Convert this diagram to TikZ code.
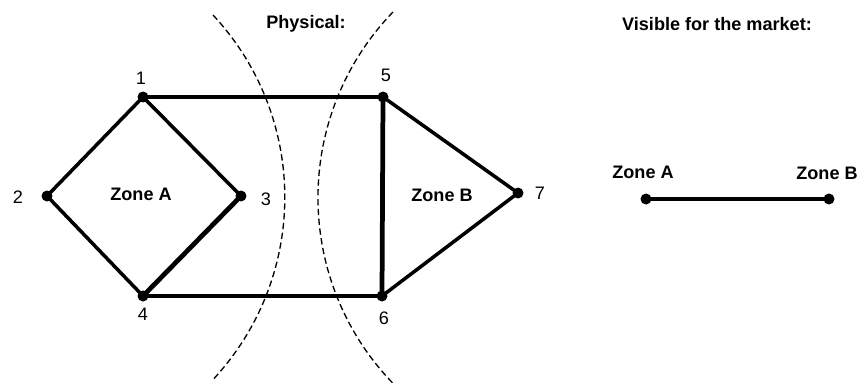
\documentclass[tikz,border=0pt]{standalone}
\usepackage{fontspec}
\setmainfont{Liberation Sans}
\begin{document}
\begin{tikzpicture}[x=0.02cm,y=0.02cm,font=\fontsize{10.3}{12}\selectfont,
  edge/.style={line width=2pt},
  heavy/.style={line width=2.7pt},
  border/.style={dash pattern=on 3.6pt off 2pt,line width=0.75pt},
  zone/.style={font=\fontsize{10.3}{12}\selectfont\bfseries}]
\useasboundingbox (0,0) rectangle (860,383);
\path
(143,286) coordinate (1)
(47,187) coordinate (2)
(241,187) coordinate (3)
(143,87) coordinate (4)
(383,286) coordinate (5)
(382,87) coordinate (6)
(518,190) coordinate (7)
(646,184) coordinate (MA)
(829,184) coordinate (MB)
;
\draw[edge] (1)--(2)--(4)--(6)--(7)--(5)--(1)--(3);
\draw[heavy] (3)--(4) (5)--(6);
\draw[line width=2.4pt] (MA)--(MB);
\draw[border] (213,368) arc[start angle=43, end angle=-43, radius=267.3];
\draw[border] (393,371) arc[start angle=136, end angle=224, radius=267.3];
\foreach \x/\lx/\ly in {1/141/305, 2/18/186, 3/266/184, 4/143/69, 5/386/308, 6/384/65, 7/540/190}
\fill[black] (\x) circle(0.11cm) (\lx,\ly) node {\x};
\foreach \x in {MA, MB}
\fill[black] (\x) circle(0.11cm);

\node[zone] (za) at (141,189) {Zone A};
\node[zone] (zb) at (442,188) {Zone B};
\node[zone] (phys) at (306,359) {Physical:};
\node[zone] (mkt) at (717,359) {Visible for the market:};
\node[zone] (ma) at (643,211) {Zone A};
\node[zone] (mb) at (827,210) {Zone B};
\end{tikzpicture}
\end{document}
